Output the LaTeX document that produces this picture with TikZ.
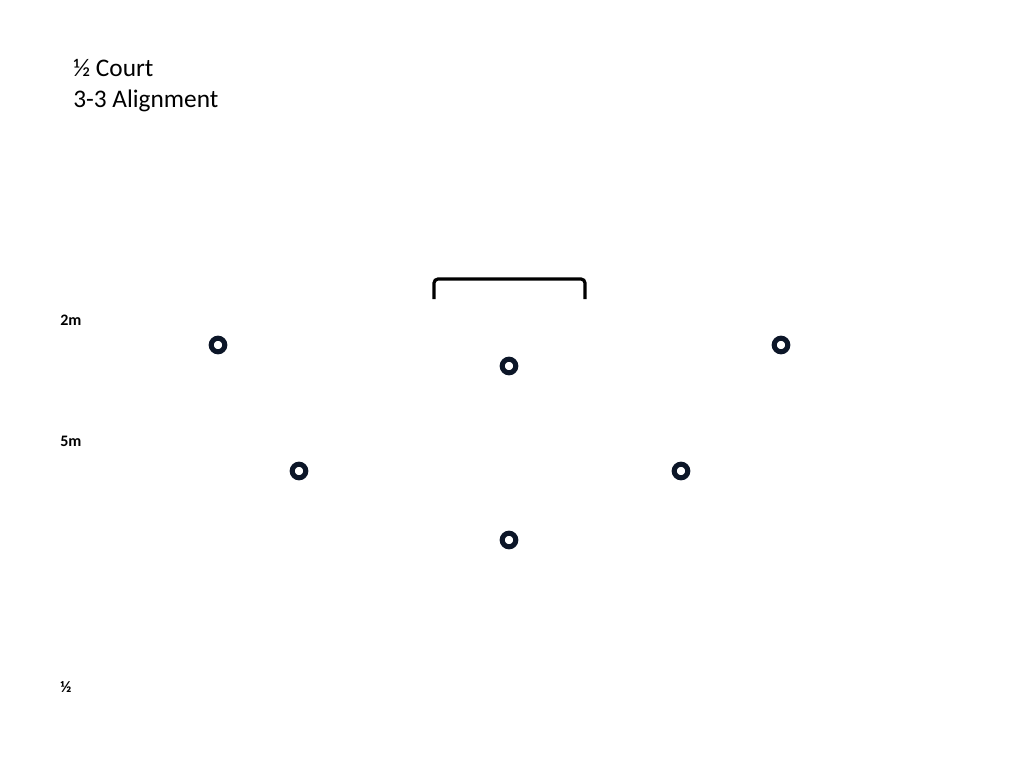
\documentclass[tikz,border=0pt]{standalone}
\usepackage{fontspec}
\setmainfont{Carlito}
\usetikzlibrary{shadows}

\definecolor{giocatore}{RGB}{12,22,40}

\tikzset{
  giocatore/.style={circle, draw=giocatore, fill=white, line width=3.8pt,
    minimum size=10.2pt, inner sep=0pt,
    drop shadow={opacity=0.25, shadow xshift=0.6pt, shadow yshift=-1.2pt}},
  quota/.style={font=\fontsize{12}{14}\selectfont\bfseries, anchor=base west, inner sep=0pt},
  titolo/.style={font=\fontsize{19}{22}\selectfont, anchor=base west, inner sep=0pt}
}

\begin{document}
\begin{tikzpicture}[x=0.75pt, y=-0.75pt]
        % Area della figura
        \useasboundingbox (0,0) rectangle (1020,765);

        % Titolo
        \node[titolo] (titolo) at (73,76) {½ Court};
        \node[titolo] (sottotitolo) at (73,107) {3-3 Alignment};

        % Quote a sinistra
        \node[quota] (q2m) at (60,325) {2m};
        \node[quota] (q5m) at (60,446) {5m};
        \node[quota] (qmeta) at (60,692) {½};

        % Porta
        \coordinate (P1) at (434,299);
        \coordinate (P2) at (434,279);
        \coordinate (P3) at (585,279);
        \coordinate (P4) at (585,299);
        \draw[line width=2.4pt, rounded corners=3pt] (P1) -- (P2) -- (P3) -- (P4);

        % Difensori: prima linea
        \node[giocatore] (a1) at (218,345) {};
        \node[giocatore] (a2) at (509,366) {};
        \node[giocatore] (a3) at (781,345) {};

        % Difensori: seconda linea
        \node[giocatore] (b1) at (299,471) {};
        \node[giocatore] (b2) at (681,471) {};
        \node[giocatore] (b3) at (509,540) {};
      \end{tikzpicture}
\end{document}
